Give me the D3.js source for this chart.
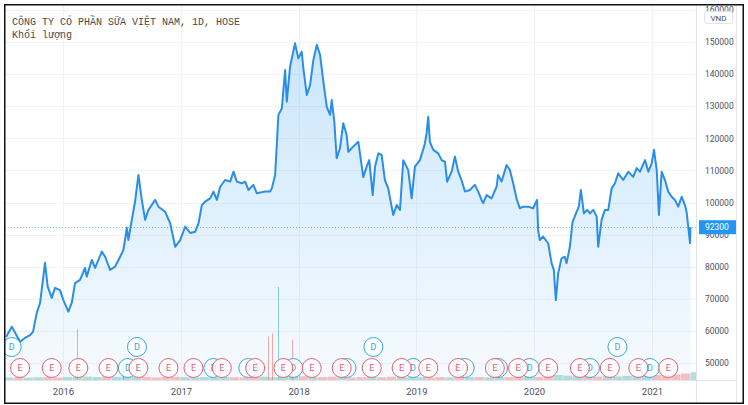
<!DOCTYPE html>
<html>
<head>
<meta charset="utf-8">
<script src="https://cdn.jsdelivr.net/npm/d3@7"></script>
<style>
  body { margin: 0; background: #fff; }
  svg { display: block; }
</style>
</head>
<body>
<div id="chart"></div>
<script>
// chart values (time as decimal years)
var years = [
  2015.516, 2015.565, 2015.593, 2015.635, 2015.677, 2015.72, 2015.745, 2015.777, 2015.805, 2015.833,
  2015.847, 2015.87, 2015.904, 2015.932, 2015.975, 2016.003, 2016.045, 2016.074, 2016.102, 2016.144,
  2016.187, 2016.201, 2016.244, 2016.272, 2016.329, 2016.357, 2016.399, 2016.441, 2016.484, 2016.512,
  2016.541, 2016.554, 2016.583, 2016.611, 2016.639, 2016.668, 2016.696, 2016.724, 2016.781, 2016.809,
  2016.866, 2016.908, 2016.951, 2016.993, 2017.036, 2017.078, 2017.121, 2017.149, 2017.177, 2017.205,
  2017.248, 2017.276, 2017.305, 2017.333, 2017.375, 2017.418, 2017.446, 2017.475, 2017.517, 2017.545,
  2017.573, 2017.615, 2017.644, 2017.715, 2017.757, 2017.772, 2017.8, 2017.828, 2017.857, 2017.885,
  2017.899, 2017.927, 2017.969, 2017.997, 2018.026, 2018.04, 2018.069, 2018.097, 2018.125, 2018.154,
  2018.182, 2018.21, 2018.239, 2018.267, 2018.281, 2018.303, 2018.323, 2018.351, 2018.379, 2018.408,
  2018.422, 2018.464, 2018.507, 2018.549, 2018.578, 2018.6, 2018.629, 2018.649, 2018.677, 2018.705,
  2018.733, 2018.761, 2018.79, 2018.804, 2018.833, 2018.861, 2018.889, 2018.931, 2018.96, 2018.988,
  2019.031, 2019.073, 2019.087, 2019.101, 2019.115, 2019.144, 2019.186, 2019.215, 2019.243, 2019.262,
  2019.3, 2019.328, 2019.356, 2019.384, 2019.413, 2019.455, 2019.497, 2019.526, 2019.554, 2019.568,
  2019.597, 2019.639, 2019.682, 2019.695, 2019.724, 2019.767, 2019.795, 2019.823, 2019.851, 2019.879,
  2019.908, 2019.95, 2019.992, 2020.026, 2020.035, 2020.049, 2020.077, 2020.12, 2020.149, 2020.168,
  2020.185, 2020.205, 2020.233, 2020.261, 2020.276, 2020.304, 2020.327, 2020.361, 2020.38, 2020.397,
  2020.423, 2020.451, 2020.474, 2020.502, 2020.531, 2020.544, 2020.573, 2020.601, 2020.629, 2020.658,
  2020.686, 2020.714, 2020.756, 2020.799, 2020.841, 2020.87, 2020.898, 2020.941, 2020.969, 2020.997,
  2021.017, 2021.04, 2021.059, 2021.082, 2021.11, 2021.138, 2021.167, 2021.195, 2021.223, 2021.252,
  2021.28, 2021.294, 2021.308, 2021.323, 2021.327
];
var prices = [
  58100, 61300, 59400, 56600, 57800, 58700, 59700, 65600, 68700, 76900,
  81200, 73800, 70300, 73400, 72700, 69600, 66000, 68700, 74900, 75900,
  79600, 76900, 82100, 79600, 84700, 83100, 79000, 80000, 83100, 85200,
  92100, 88300, 94600, 100300, 108600, 100800, 94600, 97700, 100800, 98700,
  97100, 93600, 86200, 88300, 92500, 90500, 90900, 93500, 99200, 100300,
  101300, 103400, 100800, 104900, 107000, 106500, 109600, 106500, 106000, 106500,
  103900, 105500, 102900, 103400, 103400, 104400, 108600, 127300, 129300, 141300,
  131400, 142300, 149600, 144900, 147000, 141800, 133500, 136600, 144400, 149100,
  146000, 137600, 129800, 127300, 131900, 125200, 113800, 116900, 124700, 121000,
  115800, 117400, 118900, 107900, 111200, 113200, 102300, 111200, 115300, 114800,
  107000, 104400, 98700, 96100, 99200, 97700, 113200, 110100, 101300, 111200,
  113200, 118400, 121600, 126700, 118900, 116400, 115300, 113200, 112700, 106500,
  109600, 114300, 109600, 107000, 103400, 103900, 105500, 103400, 100800, 99800,
  102300, 101300, 104900, 108600, 106500, 111700, 110100, 106000, 101300, 98200,
  98700, 98700, 98200, 100800, 91400, 88300, 89400, 87300, 81100, 79000,
  69600, 78000, 82600, 83100, 81100, 86200, 94000, 97100, 98700, 103900,
  96600, 97700, 96600, 97700, 95600, 86200, 94600, 97700, 97700, 104400,
  106000, 109100, 107000, 109600, 108000, 110700, 109600, 113200, 109600, 112200,
  116400, 110100, 96100, 109600, 107000, 103400, 101800, 100800, 98700, 101800,
  99200, 97100, 92500, 87300, 92300
];
var lastPrice = 92300;

// monthly volume (million shares), Jul 2015 .. May 2021
var volStart = [2015, 6];
var monthlyVolume = [
  1.6, 1.8, 1.5, 1.7, 1.9, 1.6,
  2.0, 1.8, 2.2, 1.9, 2.4, 2.1, 2.6, 1.8, 2.0, 1.7, 1.9, 2.0,
  1.8, 1.6, 1.9, 1.7, 2.0, 1.8, 1.7, 1.9, 2.1, 1.8, 2.2, 3.0,
  2.4, 2.0, 1.9, 2.2, 1.8, 1.6, 1.9, 2.0, 1.8, 2.1, 1.9, 1.7,
  1.8, 1.6, 1.9, 1.7, 2.0, 1.8, 1.9, 1.7, 2.0, 1.8, 2.2, 2.1,
  2.0, 2.6, 3.2, 2.8, 2.6, 2.4, 2.2, 2.5, 2.3, 2.6, 2.8, 2.9,
  3.2, 3.0, 3.6, 4.2, 5.0
];
// single heavy-volume days
var spikeYears = [2016.119, 2016.509, 2017.74, 2017.774, 2017.825, 2017.944];
var spikeVolume = [33, 11, 28, 30, 60, 26];
var spikeUp = [false, true, false, false, true, false];

// events: earnings (E) and dividends (D)
var earningsYears = [
  2015.635, 2015.904, 2016.13, 2016.385, 2016.639, 2016.894, 2017.106, 2017.347, 2017.63, 2017.87,
  2018.111, 2018.366, 2018.621, 2018.875, 2019.101, 2019.355, 2019.667, 2019.865, 2020.12, 2020.389,
  2020.643, 2020.884, 2021.138
];
var dividendYears = [
  2015.564, 2016.55, 2016.627, 2017.275, 2017.572, 2017.954, 2018.407, 2018.635, 2018.972, 2019.411,
  2019.694, 2019.963, 2020.474, 2020.707, 2020.982
];
// dividends stacked above an earnings marker on the same bar
var dividendStacked = [
  true, false, true, false, false, false, false, true, false, false,
  false, false, false, true, false
];

var priceTicks = [50000, 60000, 70000, 80000, 90000, 100000, 110000, 120000, 130000, 140000, 150000, 160000];
var yearTicks = [2016, 2017, 2018, 2019, 2020, 2021];
var titleText = "CÔNG TY CỔ PHẦN SỮA VIỆT NAM, 1D, HOSE";
var subtitleText = "Khối lượng";
var currencyText = "VND";

// decimal year -> Date
function toDate(y) {
  var yr = Math.floor(y);
  var a = new Date(yr, 0, 1), b = new Date(yr + 1, 0, 1);
  return new Date(+a + (y - yr) * (b - a));
}

var svgWidth = 748, svgHeight = 405;
var plot = { left: 5, top: 5, right: 696, bottom: 380 };

var svg = d3.select("#chart").append("svg")
  .attr("width", svgWidth)
  .attr("height", svgHeight);

var defs = svg.append("defs");
defs.append("clipPath").attr("id", "frame")
  .append("rect").attr("x", 5).attr("y", 5).attr("width", 738).attr("height", 398);
defs.append("clipPath").attr("id", "plotClip")
  .append("rect").attr("x", plot.left).attr("y", plot.top)
  .attr("width", plot.right - plot.left).attr("height", plot.bottom - plot.top);

var grad = defs.append("linearGradient").attr("id", "areaFill")
  .attr("gradientUnits", "userSpaceOnUse")
  .attr("x1", 0).attr("y1", 40).attr("x2", 0).attr("y2", plot.bottom);
grad.append("stop").attr("offset", "0%").attr("stop-color", "#2196f3").attr("stop-opacity", 0.24);
grad.append("stop").attr("offset", "100%").attr("stop-color", "#2196f3").attr("stop-opacity", 0.04);

var data = years.map(function(y, i) { return { date: toDate(y), price: prices[i] }; });

// scales
var x = d3.scaleTime()
  .domain([new Date(2016, 0, 1), new Date(2021, 0, 1)])
  .range([63, 652]);
var y = d3.scaleLinear()
  .domain([50000, 150000])
  .range([363, 42]);
var vol = d3.scaleLinear()
  .domain([0, 60])
  .range([plot.bottom, 287]);

var root = svg.append("g").attr("clip-path", "url(#frame)");

// grid
var grid = root.append("g").attr("clip-path", "url(#plotClip)");
grid.selectAll("line.h")
  .data(priceTicks)
  .enter()
  .append("line")
  .attr("x1", plot.left).attr("x2", plot.right)
  .attr("y1", d => Math.round(y(d)) + 0.5).attr("y2", d => Math.round(y(d)) + 0.5)
  .attr("stroke", "#f0f3fa");
grid.selectAll("line.v")
  .data(yearTicks)
  .enter()
  .append("line")
  .attr("y1", plot.top).attr("y2", plot.bottom)
  .attr("x1", d => Math.round(x(new Date(d, 0, 1))) + 0.5)
  .attr("x2", d => Math.round(x(new Date(d, 0, 1))) + 0.5)
  .attr("stroke", "#f0f3fa");

var chartGroup = root.append("g").attr("clip-path", "url(#plotClip)");

// area + line
var area = d3.area()
  .x(d => x(d.date))
  .y0(plot.bottom)
  .y1(d => y(d.price));
var line = d3.line()
  .x(d => x(d.date))
  .y(d => y(d.price));

chartGroup.append("path")
  .datum(data)
  .attr("d", area)
  .attr("fill", "url(#areaFill)");

// last price dotted line
chartGroup.append("line")
  .attr("x1", plot.left).attr("x2", plot.right)
  .attr("y1", Math.round(y(lastPrice)) + 0.5).attr("y2", Math.round(y(lastPrice)) + 0.5)
  .attr("stroke", "#2196f3")
  .attr("stroke-opacity", 0.6)
  .attr("stroke-dasharray", "1,2");

// volume bars (monthly), colour from price direction in the month
function priceAt(date) {
  var i = d3.bisector(d => d.date).left(data, date);
  if (i <= 0) return data[0].price;
  if (i >= data.length) return data[data.length - 1].price;
  var a = data[i - 1], b = data[i];
  var t = (date - a.date) / (b.date - a.date);
  return a.price + t * (b.price - a.price);
}
var volData = monthlyVolume.map(function(v, i) {
  var d0 = new Date(volStart[0], volStart[1] + i, 1);
  var d1 = new Date(volStart[0], volStart[1] + i + 1, 1);
  return { d0: d0, d1: d1, v: v, up: priceAt(d1) >= priceAt(d0) };
});
chartGroup.selectAll("rect.vol")
  .data(volData)
  .enter()
  .append("rect")
  .attr("x", d => x(d.d0))
  .attr("width", d => x(d.d1) - x(d.d0) - 0.5)
  .attr("y", d => vol(d.v))
  .attr("height", d => plot.bottom - vol(d.v))
  .attr("fill", d => d.up ? "#26a69a" : "#ef5350")
  .attr("opacity", 0.35);

chartGroup.selectAll("line.spike")
  .data(spikeYears)
  .enter()
  .append("line")
  .attr("x1", d => Math.round(x(toDate(d))) + 0.5)
  .attr("x2", d => Math.round(x(toDate(d))) + 0.5)
  .attr("y1", plot.bottom)
  .attr("y2", (d, i) => vol(spikeVolume[i]))
  .attr("stroke", (d, i) => spikeUp[i] ? "#26a69a" : "#ef5350")
  .attr("stroke-opacity", 0.5);

chartGroup.append("path")
  .datum(data)
  .attr("d", line)
  .attr("fill", "none")
  .attr("stroke", "#2a8ee8")
  .attr("stroke-width", 2)
  .attr("stroke-linejoin", "round");

// events
var rowLow = 368, rowHigh = 347, r = 9.5;
var eX = earningsYears.map(d => x(toDate(d)));
var divs = dividendYears.map(function(d, i) {
  return { x: x(toDate(d)), cy: dividendStacked[i] ? rowHigh : rowLow };
});
var events = root.append("g");

function drawEvent(sel, color, letter) {
  sel.append("circle")
    .attr("r", r)
    .attr("fill", "#ffffff")
    .attr("fill-opacity", 0.75)
    .attr("stroke", color)
    .attr("stroke-width", 1);
  sel.append("text")
    .attr("text-anchor", "middle")
    .attr("dy", "0.35em")
    .attr("font-family", "Roboto, sans-serif")
    .attr("font-size", "9px")
    .attr("fill", color)
    .text(letter);
}

events.selectAll("g.dlow")
  .data(divs.filter(d => d.cy === rowLow))
  .enter()
  .append("g")
  .attr("transform", d => `translate(${d.x}, ${d.cy})`)
  .call(drawEvent, "#3aa6d6", "D");

events.selectAll("g.earn")
  .data(eX)
  .enter()
  .append("g")
  .attr("transform", d => `translate(${d}, ${rowLow})`)
  .call(drawEvent, "#e8606f", "E");

events.selectAll("g.dhigh")
  .data(divs.filter(d => d.cy === rowHigh))
  .enter()
  .append("g")
  .attr("transform", d => `translate(${d.x}, ${d.cy})`)
  .call(drawEvent, "#3aa6d6", "D");

// separators
root.append("line")
  .attr("x1", plot.right + 0.5).attr("x2", plot.right + 0.5)
  .attr("y1", 5).attr("y2", 403)
  .attr("stroke", "#e0e3eb");
root.append("line")
  .attr("x1", 5).attr("x2", 736)
  .attr("y1", plot.bottom + 0.5).attr("y2", plot.bottom + 0.5)
  .attr("stroke", "#e0e3eb");
root.append("line")
  .attr("x1", 736.5).attr("x2", 736.5)
  .attr("y1", 5).attr("y2", 403)
  .attr("stroke", "#e6e8ee");

// price axis
var rightAxis = d3.axisRight(y)
  .tickValues(priceTicks)
  .tickSize(0)
  .tickPadding(0)
  .tickFormat(d3.format("d"));
var yAxis = root.append("g")
  .attr("transform", "translate(705, 0)")
  .call(rightAxis);
yAxis.select(".domain").remove();
yAxis.selectAll("text")
  .attr("font-family", "Roboto, sans-serif")
  .attr("font-size", "8.5px")
  .attr("fill", "#4c505b");

// time axis
var bottomAxis = d3.axisBottom(x)
  .tickValues(yearTicks.map(d => new Date(d, 0, 1)))
  .tickSize(0)
  .tickPadding(8)
  .tickFormat(d3.timeFormat("%Y"));
var xAxis = root.append("g")
  .attr("transform", `translate(0, ${plot.bottom})`)
  .call(bottomAxis);
xAxis.select(".domain").remove();
xAxis.selectAll("text")
  .attr("font-family", "Roboto, sans-serif")
  .attr("font-size", "9.5px")
  .attr("fill", "#4c505b");

// last price label
var lp = root.append("g").attr("transform", `translate(0, ${y(lastPrice)})`);
lp.append("rect")
  .attr("x", 699).attr("y", -7)
  .attr("width", 37).attr("height", 14)
  .attr("fill", "#2196f3");
lp.append("text")
  .attr("x", 705).attr("dy", "0.32em")
  .attr("font-family", "Roboto, sans-serif")
  .attr("font-size", "8.5px")
  .attr("fill", "#ffffff")
  .text(d3.format("d")(lastPrice));

// currency box
root.append("rect")
  .attr("x", 704.5).attr("y", 11.5)
  .attr("width", 28).attr("height", 12).attr("rx", 2)
  .attr("fill", "#ffffff")
  .attr("stroke", "#e0e3eb");
root.append("text")
  .attr("x", 718.5).attr("y", 20.5)
  .attr("text-anchor", "middle")
  .attr("font-family", "Roboto, sans-serif")
  .attr("font-size", "8px")
  .attr("fill", "#4c505b")
  .text(currencyText);

// title
root.append("text")
  .attr("x", 12).attr("y", 24.5)
  .attr("font-family", "Liberation Mono, DejaVu Sans Mono, monospace")
  .attr("font-size", "10px")
  .attr("fill", "#4a4a4a")
  .text(titleText);
root.append("text")
  .attr("x", 12).attr("y", 38)
  .attr("font-family", "Liberation Mono, DejaVu Sans Mono, monospace")
  .attr("font-size", "10px")
  .attr("fill", "#4a4a4a")
  .text(subtitleText);

// outer frame
svg.append("rect")
  .attr("x", 4.75).attr("y", 4.75)
  .attr("width", 738.5).attr("height", 398.5)
  .attr("fill", "none")
  .attr("stroke", "#111")
  .attr("stroke-width", 1.5);
</script>
</body>
</html>
